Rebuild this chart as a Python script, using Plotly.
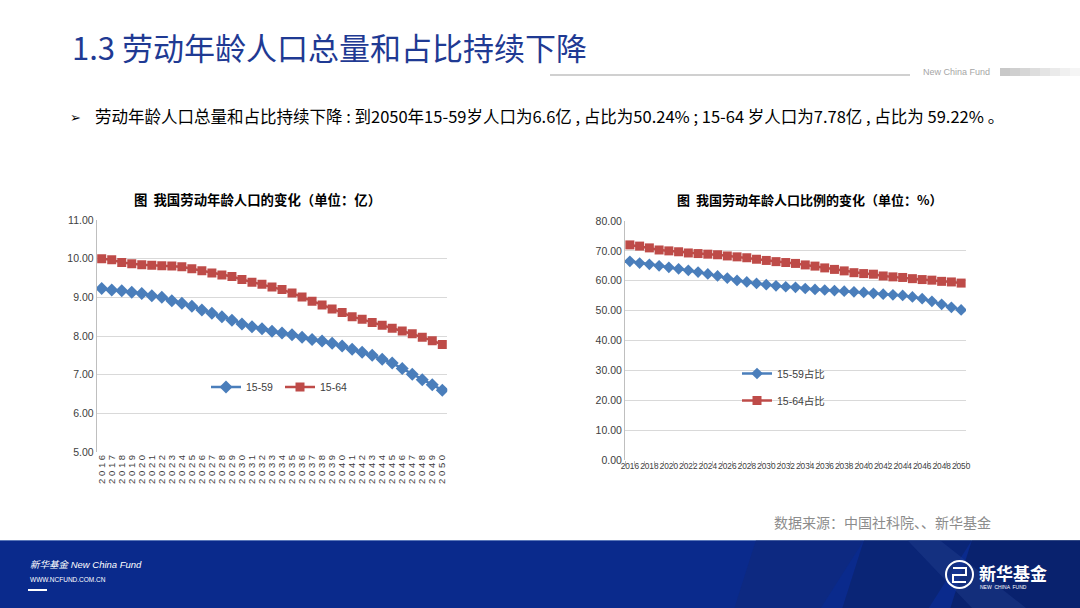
import plotly.graph_objects as go

W, H = 1080, 608

years = list(range(2016, 2051))

# 劳动年龄人口 (亿)
pop_15_59 = [9.23, 9.19, 9.17, 9.13, 9.10, 9.04, 9.00, 8.91, 8.85, 8.77,
             8.67, 8.59, 8.50, 8.41, 8.31, 8.24, 8.19, 8.12, 8.08, 8.03,
             7.97, 7.91, 7.87, 7.81, 7.74, 7.66, 7.58, 7.50, 7.40, 7.30,
             7.16, 7.01, 6.87, 6.74, 6.60]
pop_15_64 = [10.00, 9.97, 9.90, 9.87, 9.84, 9.83, 9.82, 9.81, 9.79, 9.74,
             9.69, 9.63, 9.58, 9.54, 9.46, 9.39, 9.34, 9.27, 9.20, 9.11,
             9.01, 8.90, 8.80, 8.70, 8.61, 8.50, 8.43, 8.35, 8.28, 8.20,
             8.13, 8.06, 7.97, 7.88, 7.78]

# 劳动年龄人口比例 (%)
ratio_15_59 = [66.5, 65.9, 65.5, 65.0, 64.5, 64.0, 63.5, 62.9, 62.3, 61.6,
               60.9, 60.1, 59.6, 59.1, 58.7, 58.3, 58.0, 57.8, 57.4, 57.1,
               56.9, 56.7, 56.5, 56.3, 56.1, 55.8, 55.5, 55.3, 55.1, 54.6,
               54.0, 53.1, 52.1, 51.1, 50.24]
ratio_15_64 = [72.0, 71.6, 71.0, 70.3, 70.0, 69.7, 69.3, 69.1, 68.9, 68.7,
               68.3, 68.0, 67.7, 67.2, 66.8, 66.4, 66.1, 65.8, 65.3, 64.9,
               64.3, 63.8, 63.3, 62.7, 62.4, 62.2, 61.6, 61.3, 61.1, 60.7,
               60.4, 60.2, 59.8, 59.6, 59.22]

left_names = ["15-59", "15-64"]
right_names = ["15-59占比", "15-64占比"]
left_yticks = [5, 6, 7, 8, 9, 10, 11]
right_yticks = [0, 10, 20, 30, 40, 50, 60, 70, 80]
right_xticks = list(range(2016, 2051, 2))

BLUE = "#4a7ebb"
RED = "#be4b48"
NARROW = "Liberation Sans Narrow, Liberation Sans, Arial"
CJK = "Noto Sans CJK SC"


def px(x):
    return x / W


def py(y):
    return 1 - y / H


fig = go.Figure()

# left chart traces
fig.add_trace(go.Scatter(x=years, y=pop_15_59, name=left_names[0], mode="lines+markers",
                         line=dict(color=BLUE, width=2.5),
                         marker=dict(symbol="diamond", size=10, color=BLUE),
                         xaxis="x", yaxis="y", legend="legend"))
fig.add_trace(go.Scatter(x=years, y=pop_15_64, name=left_names[1], mode="lines+markers",
                         line=dict(color=RED, width=2.5),
                         marker=dict(symbol="square", size=9, color=RED),
                         xaxis="x", yaxis="y", legend="legend3"))
# right chart traces
fig.add_trace(go.Scatter(x=years, y=ratio_15_59, name=right_names[0], mode="lines+markers",
                         line=dict(color=BLUE, width=2.5),
                         marker=dict(symbol="diamond", size=9, color=BLUE),
                         xaxis="x2", yaxis="y2", legend="legend2", legendgroup="a"))
fig.add_trace(go.Scatter(x=years, y=ratio_15_64, name=right_names[1], mode="lines+markers",
                         line=dict(color=RED, width=2.5),
                         marker=dict(symbol="square", size=9, color=RED),
                         xaxis="x2", yaxis="y2", legend="legend2", legendgroup="b"))

grid = "#d9d9d9"
axisline = "#bfbfbf"
tickfont = dict(family=NARROW, size=10.5, color="#404040")
legfont = dict(family=NARROW + ", " + CJK, size=10.5, color="#404040")

fig.update_layout(
    width=W, height=H,
    margin=dict(l=0, r=0, t=0, b=0, pad=0, autoexpand=False),
    paper_bgcolor="white", plot_bgcolor="white",
    xaxis=dict(domain=[px(96.7), px(447.3)], range=[2015.5, 2050.5],
               tickvals=years, ticktext=[" ".join(str(y)) for y in years], tickangle=-90,
               tickfont=dict(family=NARROW, size=9.5, color="#404040"),
               showgrid=False, zeroline=False, showline=False, ticks="",
               automargin=False, anchor="y"),
    yaxis=dict(domain=[py(452), py(220)], range=[5, 11], tickvals=left_yticks,
               tickformat=".2f", tickfont=tickfont, showgrid=True, gridcolor=grid,
               gridwidth=1, zeroline=False, showline=True, linecolor=axisline,
               ticks="", automargin=False, anchor="x"),
    xaxis2=dict(domain=[px(625), px(966)], range=[2015.5, 2050.5],
                tickvals=right_xticks, ticktext=[str(y) for y in right_xticks],
                tickangle=0, tickfont=dict(family=NARROW, size=8.3, color="#404040"),
                showgrid=False, zeroline=False, showline=False, ticks="",
                minor=dict(tick0=2015.5, dtick=1, ticks="outside", ticklen=5,
                           tickcolor=axisline, showgrid=False),
                automargin=False, anchor="y2"),
    yaxis2=dict(domain=[py(460), py(221)], range=[0, 80], tickvals=right_yticks,
                tickformat=".2f", tickfont=tickfont, showgrid=True, gridcolor=grid,
                gridwidth=1, zeroline=False, showline=True, linecolor=axisline,
                ticks="", automargin=False, anchor="x2"),
    legend=dict(x=px(206), y=py(387), xanchor="left", yanchor="middle",
                orientation="h", bgcolor="rgba(0,0,0,0)", font=legfont, itemwidth=30),
    legend3=dict(x=px(280), y=py(387), xanchor="left", yanchor="middle",
                 orientation="h", bgcolor="rgba(0,0,0,0)", font=legfont, itemwidth=30),
    legend2=dict(x=px(737), y=py(387), xanchor="left", yanchor="middle",
                 orientation="v", bgcolor="rgba(0,0,0,0)", tracegroupgap=8,
                 font=legfont, itemwidth=30),
    showlegend=True,
)

shapes = []
annotations = []

# header
annotations.append(dict(x=px(70), y=py(47), xref="paper", yref="paper", xanchor="left",
                        yanchor="middle", showarrow=False,
                        text="1.3 劳动年龄人口总量和占比持续下降",
                        font=dict(family=CJK, size=31, color="#1f3a93")))
shapes.append(dict(type="line", xref="paper", yref="paper", x0=px(550), x1=px(910),
                   y0=py(75), y1=py(75), line=dict(color="#d0d0d0", width=2)))
annotations.append(dict(x=px(921), y=py(72), xref="paper", yref="paper", xanchor="left",
                        yanchor="middle", showarrow=False, text="New China Fund",
                        font=dict(family=NARROW, size=9, color="#a6a6a6")))
grays = ["#c8c8c8", "#cfcfcf", "#d6d6d6", "#dddddd", "#e4e4e4", "#eaeaea", "#f0f0f0", "#f5f5f5"]
for i, g in enumerate(grays):
    shapes.append(dict(type="rect", xref="paper", yref="paper",
                       x0=px(1000 + i * 10), x1=px(1010 + i * 10),
                       y0=py(76), y1=py(68), line=dict(width=0), fillcolor=g))

# bullet text
annotations.append(dict(x=px(68), y=py(117), xref="paper", yref="paper", xanchor="left",
                        yanchor="middle", showarrow=False, text="➢",
                        font=dict(family="DejaVu Sans", size=13, color="#000000")))
annotations.append(dict(x=px(93), y=py(116), xref="paper", yref="paper", xanchor="left",
                        yanchor="middle", showarrow=False,
                        text="劳动年龄人口总量和占比持续下降 : 到2050年15-59岁人口为6.6亿 , 占比为50.24% ; 15-64 岁人口为7.78亿 , 占比为 59.22% 。",
                        font=dict(family=CJK, size=16.5, color="#000000")))

# chart titles
annotations.append(dict(x=px(257), y=py(199), xref="paper", yref="paper", xanchor="center",
                        yanchor="middle", showarrow=False,
                        text="<b>图  我国劳动年龄人口的变化（单位：亿）</b>",
                        font=dict(family=CJK, size=13.4, color="#000000")))
annotations.append(dict(x=px(809), y=py(199), xref="paper", yref="paper", xanchor="center",
                        yanchor="middle", showarrow=False,
                        text="<b>图  我国劳动年龄人口比例的变化（单位：%）</b>",
                        font=dict(family=CJK, size=13, color="#000000")))

# source
annotations.append(dict(x=px(993), y=py(522), xref="paper", yref="paper", xanchor="right",
                        yanchor="middle", showarrow=False,
                        text="数据来源：中国社科院、、新华基金",
                        font=dict(family=CJK, size=14, color="#8c8c8c")))

# footer band
shapes.append(dict(type="rect", xref="paper", yref="paper", x0=0, x1=1, y0=0, y1=py(540),
                   line=dict(width=0), fillcolor="#0a2a8c", layer="below"))
shapes.append(dict(type="line", xref="paper", yref="paper", x0=0, x1=1, y0=py(540.5),
                   y1=py(540.5), line=dict(color="#5a77b8", width=1)))
facets = [
    ("M 0.70 0.112 L 0.80 0.112 L 0.76 0 L 0.68 0 Z", "rgba(20,40,110,0.35)"),
    ("M 0.80 0.112 L 0.90 0.112 L 0.86 0 L 0.78 0 Z", "rgba(10,30,90,0.45)"),
    ("M 0.90 0.112 L 1 0.112 L 1 0 L 0.88 0 Z", "rgba(8,25,80,0.5)"),
    ("M 0.84 0.112 L 0.87 0.112 L 0.95 0 L 0.90 0 Z", "rgba(40,70,150,0.35)"),
]
for path, col in facets:
    shapes.append(dict(type="path", xref="paper", yref="paper", path=path,
                       fillcolor=col, line=dict(width=0)))

annotations.append(dict(x=px(28), y=py(564), xref="paper", yref="paper", xanchor="left",
                        yanchor="middle", showarrow=False,
                        text="<i>新华基金 New China Fund</i>",
                        font=dict(family=NARROW + ", " + CJK, size=9.5, color="#ffffff")))
annotations.append(dict(x=px(28), y=py(579), xref="paper", yref="paper", xanchor="left",
                        yanchor="middle", showarrow=False, text="WWW.NCFUND.COM.CN",
                        font=dict(family=NARROW, size=6.5, color="#ffffff")))
shapes.append(dict(type="line", xref="paper", yref="paper", x0=px(28), x1=px(47),
                   y0=py(590), y1=py(590), line=dict(color="#ffffff", width=2)))

# logo
shapes.append(dict(type="circle", xref="paper", yref="paper", x0=px(946), x1=px(973),
                   y0=py(588), y1=py(561), line=dict(color="#ffffff", width=2)))
shapes.append(dict(type="path", xref="paper", yref="paper",
                   path=f"M {px(953)} {py(568)} L {px(966)} {py(568)} L {px(966)} {py(575)} "
                        f"L {px(953)} {py(575)} L {px(953)} {py(582)} L {px(966)} {py(582)}",
                   line=dict(color="#ffffff", width=2)))
annotations.append(dict(x=px(977), y=py(572), xref="paper", yref="paper", xanchor="left",
                        yanchor="middle", showarrow=False, text="<b>新华基金</b>",
                        font=dict(family=CJK, size=17, color="#ffffff")))
annotations.append(dict(x=px(978), y=py(587), xref="paper", yref="paper", xanchor="left",
                        yanchor="middle", showarrow=False, text="NEW  CHINA  FUND",
                        font=dict(family=NARROW, size=5, color="#ffffff")))

fig.update_layout(shapes=shapes, annotations=annotations)

post = ("document.documentElement.style.margin='0';"
        "document.documentElement.style.overflow='hidden';"
        "document.body.style.margin='0';document.body.style.padding='0';"
        "document.body.style.overflow='hidden';"
        "var gd=document.getElementById('{plot_id}');"
        "var p=gd.parentElement;p.style.position='fixed';p.style.top='0';p.style.left='0';"
        "p.style.margin='0';")

fig.write_html("out.html", config={"displayModeBar": False}, post_script=post)
